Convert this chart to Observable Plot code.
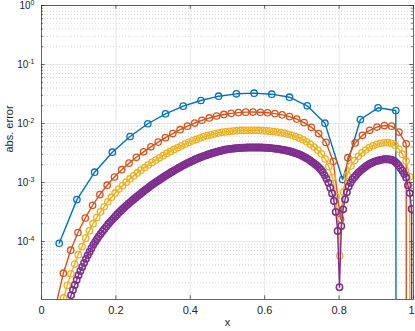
<!DOCTYPE html>
<html><head><meta charset="utf-8">
<script src="https://cdn.jsdelivr.net/npm/d3@7"></script>
<script src="https://cdn.jsdelivr.net/npm/@observablehq/plot@0.6"></script>
<style>html,body{margin:0;padding:0;background:#fff}svg{display:block}</style>
</head><body><div id="chart"></div>
<script>
// log10(abs. error); interior grid points k/(n+1), last entry is x = 1 (error ~ 0)
const blueLog10Err = [-4.03,-3.29,-2.825,-2.486,-2.22,-2.004,-1.836,-1.706,-1.61,-1.537,-1.497,-1.486,-1.503,-1.554,-1.70,-1.995,-2.95,-1.932,-1.734,-1.78,-300];
const orangeLog10Err = [-6.0,-5.07,-4.537,-4.147,-3.847,-3.602,-3.387,-3.204,-3.046,-2.907,
 -2.783,-2.672,-2.573,-2.480,-2.395,-2.315,-2.240,-2.170,-2.105,-2.045,
 -1.992,-1.946,-1.906,-1.873,-1.847,-1.828,-1.815,-1.808,-1.806,-1.809,
 -1.818,-1.832,-1.853,-1.883,-1.925,-1.985,-2.065,-2.17,-2.32,-2.64,
 -3.62,-2.58,-2.33,-2.20,-2.115,-2.06,-2.035,-2.045,-2.145,-2.345,-300];
const yellowLog10Err = [-7.35,-6.43,-5.89,-5.51,-5.215,-4.957,-4.744,-4.547,-4.383,-4.224,
 -4.085,-3.943,-3.817,-3.698,-3.594,-3.498,-3.412,-3.326,-3.249,-3.177,
 -3.112,-3.053,-2.994,-2.940,-2.888,-2.838,-2.791,-2.746,-2.702,-2.659,
 -2.619,-2.581,-2.544,-2.508,-2.474,-2.440,-2.408,-2.377,-2.347,-2.320,
 -2.294,-2.270,-2.247,-2.226,-2.207,-2.191,-2.175,-2.162,-2.150,-2.142,
 -2.134,-2.128,-2.122,-2.118,-2.117,-2.115,-2.115,-2.116,-2.118,-2.121,
 -2.125,-2.130,-2.137,-2.146,-2.155,-2.167,-2.182,-2.199,-2.220,-2.244,
 -2.275,-2.310,-2.351,-2.399,-2.451,-2.514,-2.600,-2.730,-2.918,-3.240,
 -4.240,-3.161,-2.878,-2.720,-2.628,-2.556,-2.498,-2.449,-2.408,-2.377,
 -2.353,-2.336,-2.326,-2.325,-2.335,-2.368,-2.434,-2.523,-2.635,-2.903,-300];
const purpleLog10Err = [-8.67,-7.75,-7.20,-6.83,-6.52,-6.28,-6.06,-5.89,-5.73,-5.585,
 -5.45,-5.325,-5.216,-5.107,-5.008,-4.91,-4.822,-4.738,-4.653,-4.570,
 -4.500,-4.433,-4.364,-4.295,-4.234,-4.174,-4.115,-4.057,-4.006,-3.956,
 -3.911,-3.867,-3.827,-3.787,-3.747,-3.707,-3.671,-3.637,-3.603,-3.570,
 -3.537,-3.505,-3.475,-3.446,-3.416,-3.387,-3.360,-3.332,-3.304,-3.280,
 -3.255,-3.228,-3.203,-3.177,-3.152,-3.128,-3.104,-3.080,-3.056,-3.033,
 -3.011,-2.989,-2.969,-2.948,-2.927,-2.906,-2.885,-2.866,-2.847,-2.827,
 -2.809,-2.790,-2.773,-2.755,-2.737,-2.718,-2.702,-2.686,-2.670,-2.655,
 -2.640,-2.625,-2.611,-2.598,-2.585,-2.572,-2.559,-2.548,-2.536,-2.525,
 -2.515,-2.505,-2.495,-2.486,-2.477,-2.469,-2.461,-2.453,-2.446,-2.440,
 -2.435,-2.430,-2.426,-2.423,-2.420,-2.417,-2.414,-2.412,-2.410,-2.409,
 -2.408,-2.407,-2.406,-2.406,-2.406,-2.406,-2.406,-2.407,-2.408,-2.409,
 -2.411,-2.413,-2.415,-2.418,-2.421,-2.425,-2.429,-2.433,-2.438,-2.443,
 -2.449,-2.456,-2.463,-2.470,-2.478,-2.488,-2.499,-2.510,-2.522,-2.535,
 -2.550,-2.567,-2.584,-2.603,-2.624,-2.647,-2.670,-2.694,-2.720,-2.751,
 -2.783,-2.827,-2.879,-2.938,-3.006,-3.087,-3.186,-3.314,-3.498,-3.822,
 -4.775,-3.736,-3.455,-3.286,-3.164,-3.069,-3.005,-2.950,-2.911,-2.877,
 -2.840,-2.811,-2.781,-2.757,-2.732,-2.711,-2.689,-2.674,-2.659,-2.646,
 -2.634,-2.626,-2.617,-2.612,-2.607,-2.606,-2.605,-2.609,-2.614,-2.628,
 -2.647,-2.679,-2.712,-2.757,-2.802,-2.858,-2.916,-3.048,-3.180,-3.450,-300];

const seriesNames = ["n = 20", "n = 50", "n = 100", "n = 200"];
const seriesColors = ["#0072BD", "#D95319", "#EDB120", "#7E2F8E"];
const seriesLogs = [blueLog10Err, orangeLog10Err, yellowLog10Err, purpleLog10Err];

const xTicks = [0, 0.2, 0.4, 0.6, 0.8, 1];
const xTickLabels = ["0", "0.2", "0.4", "0.6", "0.8", "1"];
const yMajorTicks = [1e-4, 1e-3, 1e-2, 1e-1, 1];
const yTickLabels = ["10^-4", "10^-3", "10^-2", "10^-1", "10^0"];
const yMinorTicks = [];
for (const t of [1e-5, 1e-4, 1e-3, 1e-2, 1e-1]) for (let m = 2; m <= 9; m++) yMinorTicks.push(m * t);
const yDomain = [1.04e-5, 1];
const xLabel = "x", yLabel = "abs. error";

const W = 415, H = 331, mL = 41, mR = 2, mT = 5, mB = 32;
const fw = W - mL - mR, fh = H - mT - mB;
const axisColor = "#262626";
const minorVisible = yMinorTicks.filter(v => v > yDomain[0]);

const marks = [
  Plot.gridY(minorVisible, {stroke: "#c4c4c4", strokeOpacity: 1, strokeWidth: 0.7, strokeDasharray: "1,2"}),
  Plot.gridY(yMajorTicks, {stroke: "#e2e2e2", strokeOpacity: 1, strokeWidth: 0.8}),
  Plot.gridX(xTicks.slice(1, -1), {stroke: "#e2e2e2", strokeOpacity: 1, strokeWidth: 0.8})
];
seriesLogs.forEach((logs, s) => {
  const N = logs.length;
  const rows = logs.map((v, i) => ({x: (i + 1) / N, err: Math.pow(10, v), s: seriesNames[s]}));
  marks.push(Plot.line(rows, {x: "x", y: "err", stroke: seriesColors[s], strokeWidth: 1.4, clip: true}));
  marks.push(Plot.dot(rows, {x: "x", y: "err", r: 3.2, stroke: seriesColors[s], strokeWidth: s === 3 ? 1.5 : 1.3, fill: "none", clip: true, filter: d => d.err >= yDomain[0]}));
});
marks.push(
  Plot.frame({stroke: axisColor, strokeWidth: 0.7}),
  Plot.tickY(yMajorTicks, {y: d => d, insetRight: fw - 3.7, stroke: axisColor, strokeWidth: 0.7}),
  Plot.tickY(yMajorTicks, {y: d => d, insetLeft: fw - 3.7, stroke: axisColor, strokeWidth: 0.7}),
  Plot.tickY(minorVisible, {y: d => d, insetRight: fw - 2, stroke: axisColor, strokeWidth: 0.6}),
  Plot.tickY(minorVisible, {y: d => d, insetLeft: fw - 2, stroke: axisColor, strokeWidth: 0.6}),
  Plot.tickX(xTicks, {x: d => d, insetTop: fh - 3.7, stroke: axisColor, strokeWidth: 0.7}),
  Plot.tickX(xTicks, {x: d => d, insetBottom: fh - 3.7, stroke: axisColor, strokeWidth: 0.7}),
  Plot.axisX({ticks: xTicks, tickSize: 0, tickPadding: 7, tickFormat: d => xTickLabels[xTicks.indexOf(d)], fontSize: 11, fill: axisColor, label: null}),
  Plot.axisY({ticks: yMajorTicks, tickSize: 0, tickPadding: 7, tickFormat: d => yTickLabels[yMajorTicks.indexOf(d)], fontSize: 10, fill: axisColor, label: null}),
  Plot.text([xLabel], {text: d => d, frameAnchor: "bottom", dy: 26, fontSize: 11, fill: axisColor}),
  Plot.text([yLabel], {text: d => d, frameAnchor: "left", dx: -32, rotate: -90, fontSize: 11, fill: axisColor})
);

const chart = Plot.plot({
  width: W, height: H, marginLeft: mL, marginRight: mR, marginTop: mT, marginBottom: mB,
  style: {fontFamily: "'Liberation Sans', Arial, Helvetica, sans-serif", fontSize: "10px", color: axisColor, background: "#fff"},
  x: {domain: [0, 1]},
  y: {type: "log", domain: yDomain},
  marks
});
document.getElementById("chart").appendChild(chart);

// superscript exponents on the y tick labels (10^-1 -> 10 with raised -1)
d3.select(chart).selectAll('g[aria-label="y-axis tick label"] text').each(function () {
  const t = d3.select(this);
  const parts = t.text().split("^");
  if (parts.length !== 2) return;
  t.text(null);
  t.append("tspan").text(parts[0]);
  t.append("tspan").attr("dy", "-0.55em").attr("font-size", "7px").text(parts[1]);
});
// keep the last x tick label ("1") inside the picture
d3.select(chart).selectAll('g[aria-label="x-axis tick label"] text').each(function () {
  if (d3.select(this).text() === "1") d3.select(this).attr("text-anchor", "end").attr("dx", "1.2");
});
</script>
</body></html>
